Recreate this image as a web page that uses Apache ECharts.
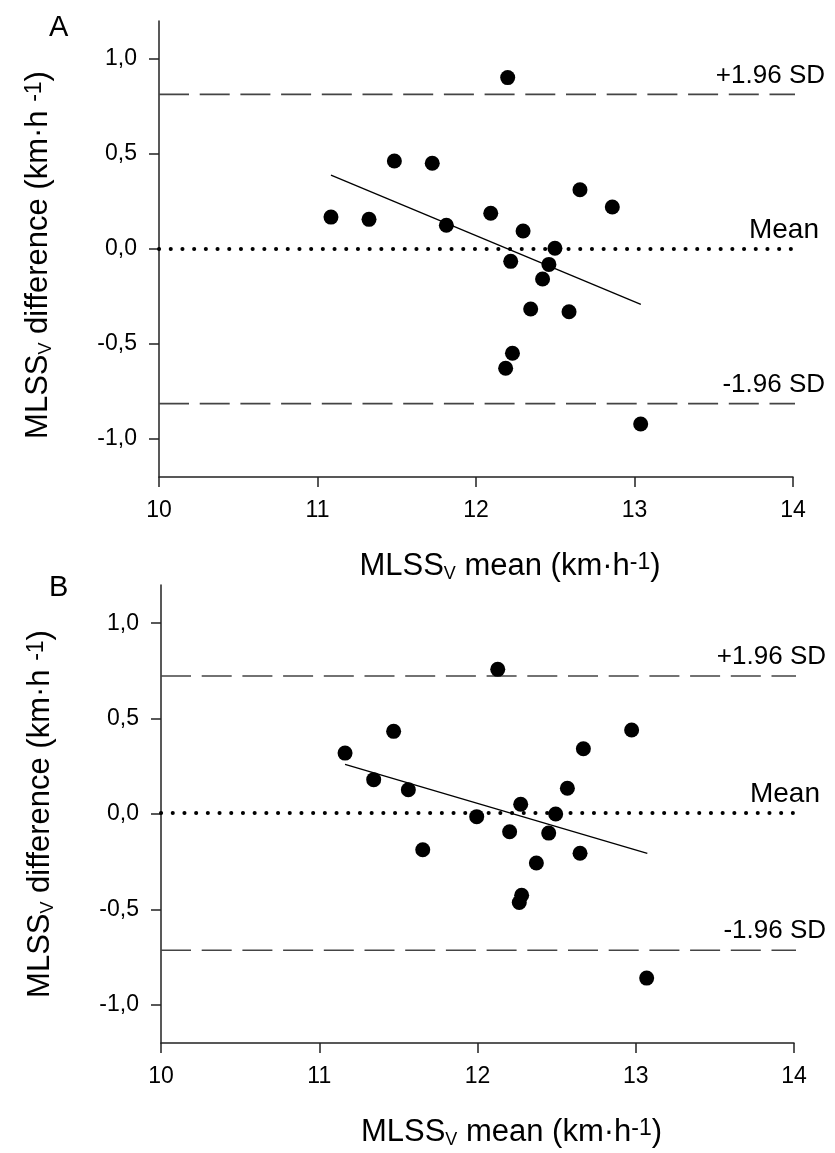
<!DOCTYPE html>
<html>
<head>
<meta charset="utf-8">
<script src="https://cdn.jsdelivr.net/npm/echarts@6/dist/echarts.min.js"></script>
<style>
html,body{margin:0;padding:0;background:#fff;}
#main{width:835px;height:1153px;}
</style>
</head>
<body>
<div id="main"></div>
<script>
var FONT = '"Liberation Sans", Arial, sans-serif';

// panel A
var meanA = [11.085, 11.325, 11.485, 11.724, 12.2, 11.813, 12.093, 12.297, 12.656, 12.86, 12.498, 12.219, 12.46, 12.42, 12.345, 12.587, 12.23, 12.187, 13.039];
var diffA = [0.168, 0.156, 0.463, 0.451, 0.902, 0.125, 0.188, 0.095, 0.312, 0.221, 0.004, -0.065, -0.081, -0.158, -0.316, -0.33, -0.549, -0.628, -0.921];
var regAx = [11.085, 13.04];
var regAy = [0.389, -0.291];
var limitsA = [0.814, 0.0, -0.814];

// panel B
var meanB = [11.163, 11.344, 11.47, 11.563, 11.654, 12.128, 11.995, 12.203, 12.273, 12.372, 12.45, 12.494, 12.568, 12.669, 12.648, 12.974, 12.279, 12.264, 13.069];
var diffB = [0.319, 0.18, 0.433, 0.127, -0.187, 0.758, -0.014, -0.093, 0.051, -0.257, -0.1, 0.0, 0.135, 0.342, -0.206, 0.44, -0.426, -0.464, -0.86];
var regBx = [11.163, 13.073];
var regBy = [0.26, -0.206];
var limitsB = [0.723, 0.005, -0.714];

var xTicks = [10, 11, 12, 13, 14];
var yTicks = [-1.0, -0.5, 0.0, 0.5, 1.0];
var refLabels = ['+1.96 SD', 'Mean', '-1.96 SD'];
var refStart = 10, refEnd = 14.04;

function zip(a, b) {
  var out = [];
  for (var i = 0; i < a.length; i++) out.push([a[i], b[i]]);
  return out;
}

var richTitle = {
  b: {fontSize: 31, fontFamily: FONT, color: '#000', lineHeight: 32, verticalAlign: 'top'},
  sub: {fontSize: 18, fontFamily: FONT, color: '#000', lineHeight: 18, verticalAlign: 'bottom', padding: [28, 0, 0, 0]},
  sup: {fontSize: 23, fontFamily: FONT, color: '#000', lineHeight: 23, verticalAlign: 'top'}
};

function xAxisFor(idx) {
  return {
    type: 'value', gridIndex: idx, min: 10, max: 14, interval: 1,
    name: '{b|MLSS}{sub|V}{b| mean (km·h}{sup|-1}{b|)}',
    nameLocation: 'middle', nameGap: 74,
    nameTextStyle: {rich: richTitle, padding: [0, 0, 0, 68]},
    axisLine: {show: true, onZero: false, lineStyle: {color: '#222', width: 1.5}},
    axisTick: {show: true, inside: false, length: 10, lineStyle: {color: '#222', width: 1.5}},
    axisLabel: {color: '#000', fontSize: 23, fontFamily: FONT, margin: 22},
    splitLine: {show: false}
  };
}

function yAxisFor(idx) {
  return {
    type: 'value', gridIndex: idx, min: -1.2, max: 1.2,
    name: '{b|MLSS}{sub|V}{b| difference (km·h }{sup|-1}{b|)}',
    nameLocation: 'middle', nameGap: 104,
    nameTextStyle: {rich: richTitle, padding: idx === 0 ? [0, 12, 0, 0] : [0, 0, 0, 0]},
    axisLine: {show: true, onZero: false, lineStyle: {color: '#222', width: 1.5}},
    axisTick: {show: true, inside: false, length: 10, customValues: yTicks, lineStyle: {color: '#222', width: 1.5}},
    axisLabel: {
      color: '#000', fontSize: 23, fontFamily: FONT, margin: 22, customValues: yTicks,
      formatter: function (v) { return v.toFixed(1).replace('.', ','); }
    },
    splitLine: {show: false}
  };
}

function panelSeries(idx, means, diffs, rx, ry, limits) {
  var s = [];
  s.push({
    type: 'scatter', xAxisIndex: idx, yAxisIndex: idx,
    data: zip(means, diffs), symbolSize: 15,
    itemStyle: {color: '#000', opacity: 1}, z: 5
  });
  s.push({
    type: 'line', xAxisIndex: idx, yAxisIndex: idx,
    data: zip(rx, ry), showSymbol: false, symbol: 'none',
    lineStyle: {color: '#000', width: 1.3}, z: 4
  });
  for (var k = 0; k < limits.length; k++) {
    var isMean = (k === 1);
    s.push({
      type: 'line', xAxisIndex: idx, yAxisIndex: idx, clip: false,
      data: [[refStart, limits[k]], [refEnd, limits[k]]],
      showSymbol: false, symbol: 'none',
      lineStyle: isMean
        ? {color: '#000', width: 4, type: [0.1, 11.6], cap: 'round'}
        : {color: '#444', width: 1.6, type: [30, 10.7]},
      endLabel: {
        show: true, formatter: refLabels[k], color: '#000',
        fontSize: isMean ? 28 : 26, fontFamily: FONT, align: 'right', verticalAlign: 'middle',
        distance: 0, offset: [isMean ? 24 : 30, -19]
      },
      z: 3
    });
  }
  return s;
}

var chart = echarts.init(document.getElementById('main'));
chart.setOption({
  animation: false,
  backgroundColor: '#fff',
  title: [
    {text: 'A', left: 44, top: 8, textStyle: {fontSize: 29, fontWeight: 'normal', fontFamily: FONT, color: '#000'}},
    {text: 'B', left: 44, top: 568, textStyle: {fontSize: 29, fontWeight: 'normal', fontFamily: FONT, color: '#000'}}
  ],
  grid: [
    {left: 159, right: 42, top: 21, height: 456},
    {left: 161, right: 41, top: 585, height: 458}
  ],
  xAxis: [xAxisFor(0), xAxisFor(1)],
  yAxis: [yAxisFor(0), yAxisFor(1)],
  series: panelSeries(0, meanA, diffA, regAx, regAy, limitsA)
    .concat(panelSeries(1, meanB, diffB, regBx, regBy, limitsB))
});
</script>
</body>
</html>
